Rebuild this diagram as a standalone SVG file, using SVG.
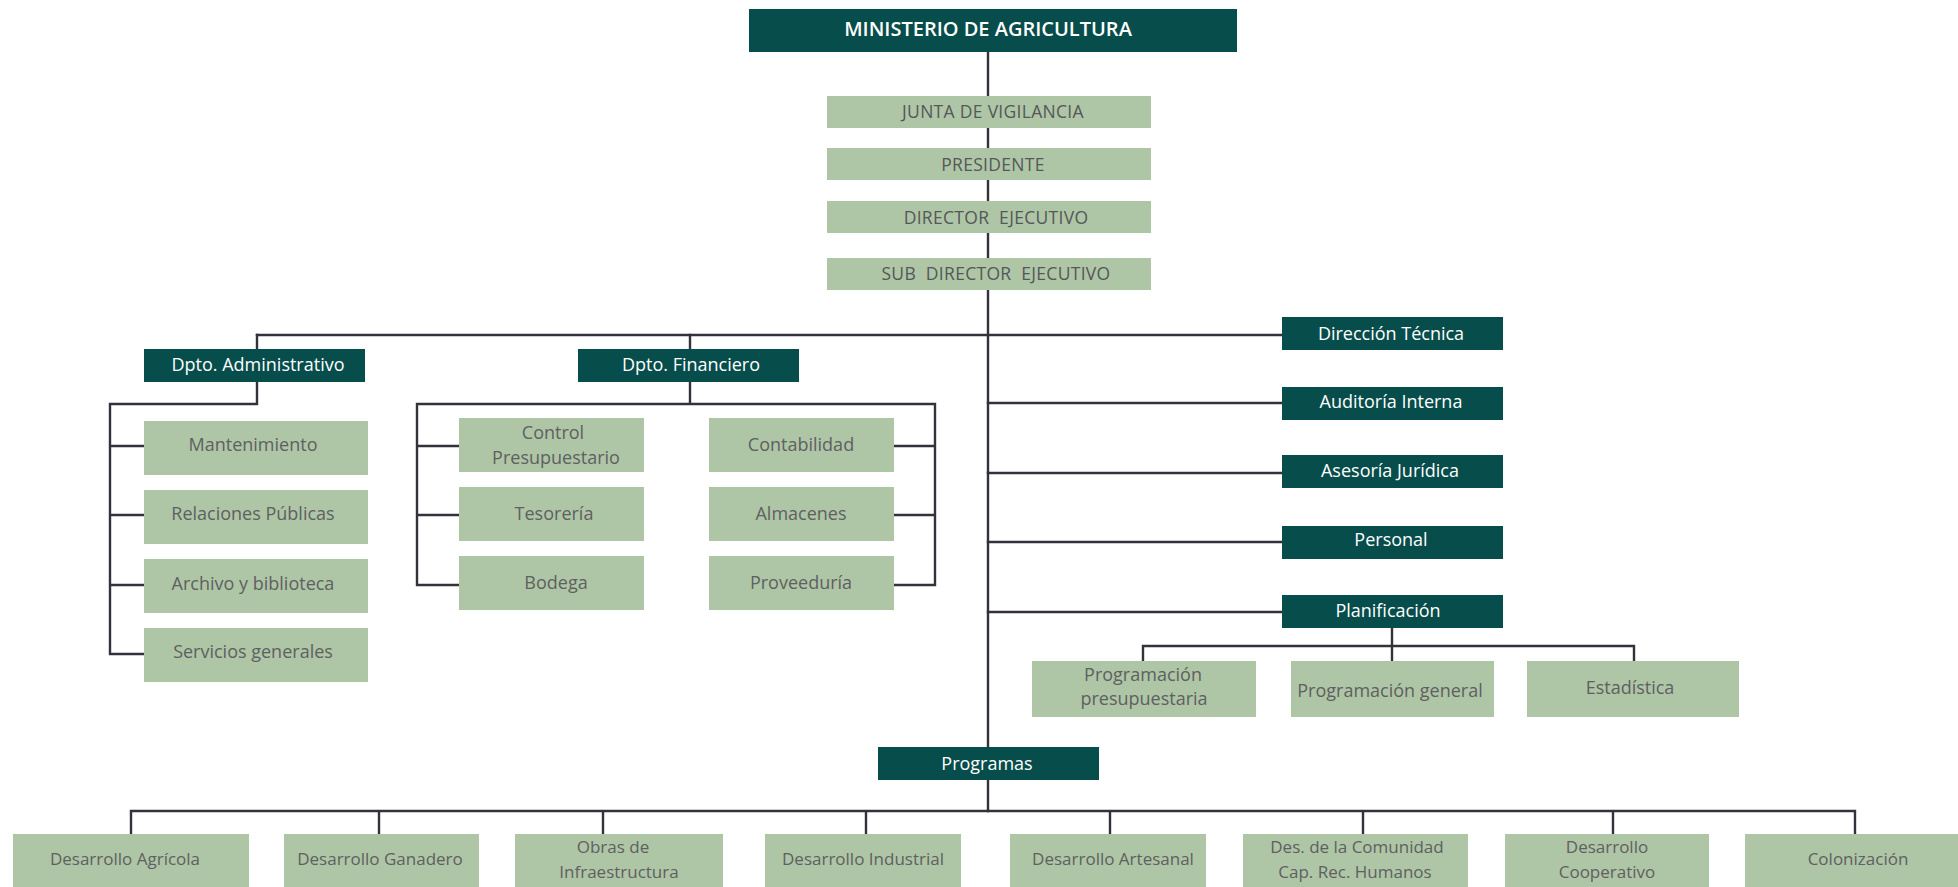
<svg xmlns="http://www.w3.org/2000/svg" width="1958" height="887" viewBox="0 0 1958 887">
<style>
.ln{stroke:#35313a;stroke-width:2.4;fill:none;stroke-linecap:square}
.dk{fill:#074d4b}
.lt{fill:#aec6a5}
.tw{fill:#ffffff;font-family:"Open Sans","Noto Sans",sans-serif;font-size:18px;text-anchor:middle}
.tg{fill:#5e6062;font-family:"Open Sans","Noto Sans",sans-serif;font-size:18px;text-anchor:middle}
.tb{fill:#5e6062;font-family:"Open Sans","Noto Sans",sans-serif;font-size:17px;text-anchor:middle}
.tc{fill:#55575a;font-family:"Open Sans","Noto Sans",sans-serif;font-size:17.5px;text-anchor:middle;letter-spacing:0.3px}
</style>
<rect width="1958" height="887" fill="#ffffff"/>
<g id="connectors">
<path class="ln" d="M988 52V811"/>
<path class="ln" d="M257 335H1282"/>
<path class="ln" d="M257 335V349M690 335V349"/>
<path class="ln" d="M257 382V404H110V654M110 446H144M110 515H144M110 585H144M110 654H144"/>
<path class="ln" d="M690 382V404M417 404H935M417 404V585M935 404V585M417 446H459M417 515H459M417 585H459M894 446H935M894 515H935M894 585H935"/>
<path class="ln" d="M988 403H1282M988 473H1282M988 542H1282M988 612H1282"/>
<path class="ln" d="M1392 628V661M1143 646H1634M1143 646V661M1634 646V661"/>
<path class="ln" d="M131 811H1855M131 811V834M379 811V834M603 811V834M866 811V834M1110 811V834M1363 811V834M1613 811V834M1855 811V834"/>
</g>
<g id="ministerio"><rect class="dk" x="749" y="9" width="488" height="43"/><text x="988" y="36" fill="#ffffff" font-family="Open Sans, Noto Sans, sans-serif" font-size="20px" font-weight="600" text-anchor="middle">MINISTERIO DE AGRICULTURA</text></g>
<g id="junta"><rect class="lt" x="827" y="96" width="324" height="32"/><text class="tc" x="993" y="118">JUNTA DE VIGILANCIA</text></g>
<g id="presidente"><rect class="lt" x="827" y="148" width="324" height="32"/><text class="tc" x="993" y="171">PRESIDENTE</text></g>
<g id="director"><rect class="lt" x="827" y="201" width="324" height="32"/><text class="tc" x="996" y="224" word-spacing="5">DIRECTOR EJECUTIVO</text></g>
<g id="subdirector"><rect class="lt" x="827" y="258" width="324" height="32"/><text class="tc" x="996" y="280" word-spacing="5">SUB DIRECTOR EJECUTIVO</text></g>
<g id="dpto-admin"><rect class="dk" x="144" y="349" width="221" height="33"/><text class="tw" x="258" y="371">Dpto. Administrativo</text></g>
<g id="dpto-fin"><rect class="dk" x="578" y="349" width="221" height="33"/><text class="tw" x="691" y="371">Dpto. Financiero</text></g>
<g id="mantenimiento"><rect class="lt" x="144" y="421" width="224" height="54"/><text class="tg" x="253" y="451">Mantenimiento</text></g>
<g id="relaciones"><rect class="lt" x="144" y="490" width="224" height="54"/><text class="tg" x="253" y="520">Relaciones Públicas</text></g>
<g id="archivo"><rect class="lt" x="144" y="559" width="224" height="54"/><text class="tg" x="253" y="590">Archivo y biblioteca</text></g>
<g id="servicios"><rect class="lt" x="144" y="628" width="224" height="54"/><text class="tg" x="253" y="658">Servicios generales</text></g>
<g id="control"><rect class="lt" x="459" y="418" width="185" height="54"/><text class="tg" x="553" y="439">Control</text><text class="tg" x="556" y="464">Presupuestario</text></g>
<g id="tesoreria"><rect class="lt" x="459" y="487" width="185" height="54"/><text class="tg" x="554" y="520">Tesorería</text></g>
<g id="bodega"><rect class="lt" x="459" y="556" width="185" height="54"/><text class="tg" x="556" y="589">Bodega</text></g>
<g id="contabilidad"><rect class="lt" x="709" y="418" width="185" height="54"/><text class="tg" x="801" y="451">Contabilidad</text></g>
<g id="almacenes"><rect class="lt" x="709" y="487" width="185" height="54"/><text class="tg" x="801" y="520">Almacenes</text></g>
<g id="proveeduria"><rect class="lt" x="709" y="556" width="185" height="54"/><text class="tg" x="801" y="589">Proveeduría</text></g>
<g id="direccion-tecnica"><rect class="dk" x="1282" y="317" width="221" height="33"/><text class="tw" x="1391" y="340">Dirección Técnica</text></g>
<g id="auditoria"><rect class="dk" x="1282" y="387" width="221" height="33"/><text class="tw" x="1391" y="408">Auditoría Interna</text></g>
<g id="asesoria"><rect class="dk" x="1282" y="455" width="221" height="33"/><text class="tw" x="1390" y="477">Asesoría Jurídica</text></g>
<g id="personal"><rect class="dk" x="1282" y="526" width="221" height="33"/><text class="tw" x="1391" y="546">Personal</text></g>
<g id="planificacion"><rect class="dk" x="1282" y="595" width="221" height="33"/><text class="tw" x="1388" y="617">Planificación</text></g>
<g id="prog-presupuestaria"><rect class="lt" x="1032" y="661" width="224" height="56"/><text class="tg" x="1143" y="681">Programación</text><text class="tg" x="1144" y="705">presupuestaria</text></g>
<g id="prog-general"><rect class="lt" x="1291" y="661" width="203" height="56"/><text class="tg" x="1390" y="697">Programación general</text></g>
<g id="estadistica"><rect class="lt" x="1527" y="661" width="212" height="56"/><text class="tg" x="1630" y="694">Estadística</text></g>
<g id="programas"><rect class="dk" x="878" y="747" width="221" height="33"/><text class="tw" x="987" y="770">Programas</text></g>
<g id="agricola"><rect class="lt" x="13" y="834" width="236" height="56"/><text class="tb" x="125" y="865">Desarrollo Agrícola</text></g>
<g id="ganadero"><rect class="lt" x="284" y="834" width="195" height="56"/><text class="tb" x="380" y="865">Desarrollo Ganadero</text></g>
<g id="obras"><rect class="lt" x="515" y="834" width="208" height="56"/><text class="tb" x="613" y="853">Obras de</text><text class="tb" x="619" y="878">Infraestructura</text></g>
<g id="industrial"><rect class="lt" x="765" y="834" width="196" height="56"/><text class="tb" x="863" y="865">Desarrollo Industrial</text></g>
<g id="artesanal"><rect class="lt" x="1010" y="834" width="196" height="56"/><text class="tb" x="1113" y="865">Desarrollo Artesanal</text></g>
<g id="comunidad"><rect class="lt" x="1243" y="834" width="225" height="56"/><text class="tb" x="1357" y="853">Des. de la Comunidad</text><text class="tb" x="1355" y="878">Cap. Rec. Humanos</text></g>
<g id="cooperativo"><rect class="lt" x="1505" y="834" width="204" height="56"/><text class="tb" x="1607" y="853">Desarrollo</text><text class="tb" x="1607" y="878">Cooperativo</text></g>
<g id="colonizacion"><rect class="lt" x="1745" y="834" width="213" height="56"/><text class="tb" x="1858" y="865">Colonización</text></g>
</svg>
